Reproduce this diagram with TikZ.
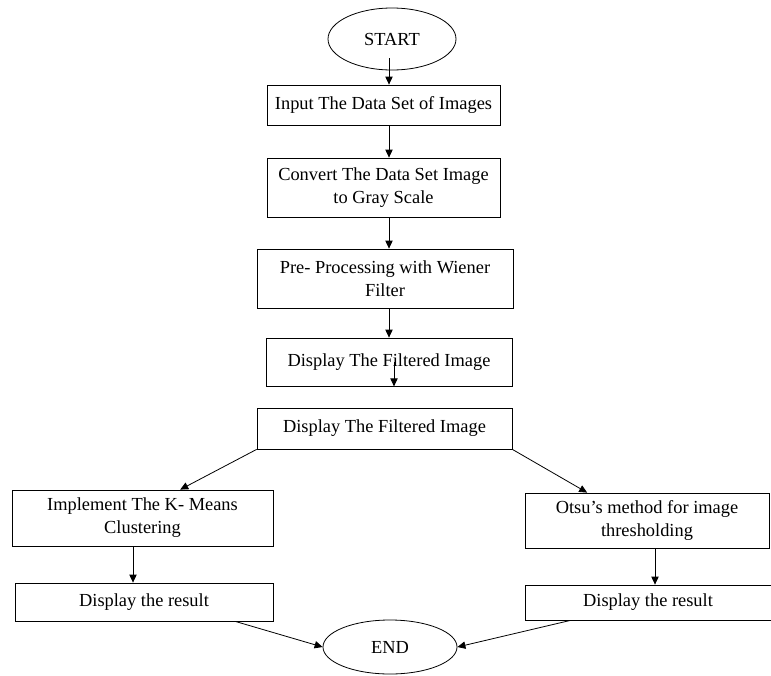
\documentclass[tikz,border=0pt]{standalone}
\usepackage{fontspec}
\setmainfont{Liberation Serif}
\usetikzlibrary{arrows.meta, shapes.geometric}

\begin{document}
\begin{tikzpicture}[x = 0.75pt, y = -0.75pt,
        box/.style = {draw, line width=0.6pt, inner sep=0pt, align=center, font=\fontsize{13.8pt}{17.25pt}\selectfont},
        term/.style = {box, ellipse},
        arr/.style = {-{Triangle[length=6pt, width=5.5pt]}, line width=0.6pt}]
        \useasboundingbox (0,0) rectangle (771,675);

        \coordinate (colA) at (389,0);
        \coordinate (colB) at (394,0);
        \coordinate (colL) at (133,0);
        \coordinate (colR) at (655,0);

        \node[term, minimum width=96pt, minimum height=46.5pt] (start) at (392,39) {START};
        \node[box, minimum width=174.75pt, minimum height=30pt] (input) at (383.5,105) {Input The Data Set of Images};
        \node[box, minimum width=174.75pt, minimum height=44.25pt] (convert) at (383.5,187.5) {Convert The Data Set Image\\to Gray Scale};
        \node[box, minimum width=192pt, minimum height=44.25pt] (pre) at (385,278.5) {Pre- Processing with Wiener\\Filter};
        \node[box, minimum width=184.5pt, minimum height=36pt] (disp1) at (389,362) {Display The Filtered Image};
        \node[box, minimum width=191.25pt, minimum height=30.75pt] (disp2) at (384.5,428.5) {Display The Filtered Image};
        \node[box, minimum width=195.75pt, minimum height=42pt] (kmeans) at (142.5,518) {Implement The K- Means\\Clustering};
        \node[box, minimum width=193.5pt, minimum height=28.5pt] (res1) at (144,602) {Display the result};
        \node[box, minimum width=183pt, minimum height=41.25pt] (otsu) at (647,520.5) {Otsu’s method for image\\thresholding};
        \node[box, minimum width=184.5pt, minimum height=26.25pt] (res2) at (648,602.5) {Display the result};
        \node[term, minimum width=100.5pt, minimum height=40.5pt] (stop) at (390,647) {END};

        \draw[arr] ([yshift=9pt]start.south -| colA) -- (input.north -| colA);
        \draw[arr] (input.south -| colA) -- (convert.north -| colA);
        \draw[arr] (convert.south -| colA) -- (pre.north -| colA);
        \draw[arr] (pre.south -| colA) -- (disp1.north -| colA);
        \draw[arr] (disp1.center -| colB) -- (disp1.south -| colB);
        \draw[arr] (disp2.south west) -- (kmeans.37);
        \draw[arr] (disp2.south east) -- (otsu.155);
        \draw[arr] (kmeans.south -| colL) -- (res1.north -| colL);
        \draw[arr] (otsu.south -| colR) -- (res2.north -| colR);
        \draw[arr] (res1.-12) -- (stop.west);
        \draw[arr] (res2.193) -- (stop.east);
\end{tikzpicture}
\end{document}
